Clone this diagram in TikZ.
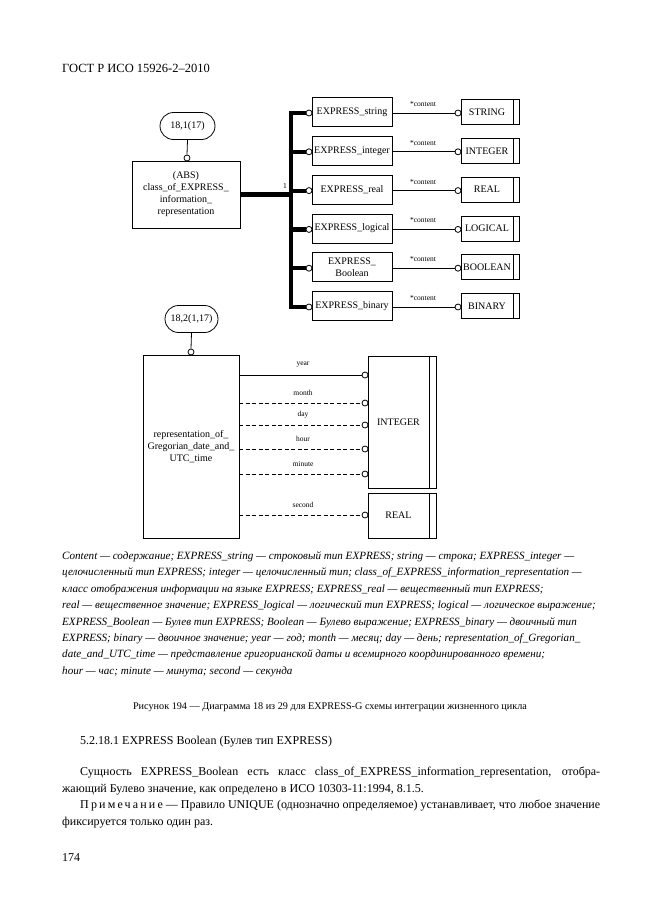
\documentclass[tikz,border=0pt]{standalone}
\usepackage{fontspec}
\setmainfont{Liberation Serif}
\usetikzlibrary{shapes.misc}
\newcommand\fsz[2]{\fontsize{#1}{#2}\selectfont}
\begin{document}
\begin{tikzpicture}[x=1pt,y=-1pt,
  tline/.style={line width=0.8pt},
  heavy/.style={line width=4.2pt, line join=miter},
  oval/.style={draw, tline, rounded rectangle, minimum height=27pt, inner sep=2pt, font=\fsz{10}{12}},
  ebox/.style={draw, tline, inner sep=1pt, align=center, font=\fsz{10}{12}},
  lbox/.style={ebox, minimum width=80pt, minimum height=29pt},
  rbox/.style={ebox, minimum width=58pt, minimum height=25pt},
  circ/.style={circle, draw, tline, fill=white, minimum size=6pt, inner sep=0pt},
  lbl/.style={font=\fsz{7.5}{9}, inner sep=0pt},
  dsh/.style={tline, dash pattern=on 4pt off 2.5pt},
  txt/.style={anchor=base west, inner sep=0pt},
  legend/.style={txt, font=\fsz{11.1}{13}\itshape},
  body/.style={txt, font=\fsz{12}{14}}]
\useasboundingbox (0,0) rectangle (661,913);
\fill[white] (0,0) rectangle (661,913);

% header
\node[txt, font=\fsz{12.5}{14}] (hdr) at (62,72) {ГОСТ Р ИСО 15926-2–2010};

% ---------- top diagram ----------
\node[oval, minimum width=59pt] (o1) at (187.5,126) {18,1(17)};
\node[ebox, minimum width=108pt, minimum height=67pt] (abs) at (186,194.5)
  {(ABS)\\class\_of\_EXPRESS\_\\information\_\\representation};
\node[circ] (oc1) at (187,158) {};
\draw[tline] (o1.south) -- (oc1.north);

\foreach \i/\y/\lt/\rt in {1/113/EXPRESS\_string/STRING,
                           2/151.8/EXPRESS\_integer/INTEGER,
                           3/190.6/EXPRESS\_real/REAL,
                           4/229.4/EXPRESS\_logical/LOGICAL,
                           5/268.2/{EXPRESS\_\\Boolean}/BOOLEAN,
                           6/307/EXPRESS\_binary/BINARY}{
  \node[lbox] (l\i) at (352,\y-1) {\lt};
  \node[rbox] (r\i) at (490,\y-1) {\rt\hspace*{6pt}};
  \draw[tline] ([xshift=-6pt]r\i.north east) -- ([xshift=-6pt]r\i.south east);
  \node[circ] (cl\i) at (309,\y) {};
  \node[circ] (cr\i) at (458,\y) {};
  \draw[tline] (l\i.east |- cr\i) -- (cr\i.west);
  \node[lbl] (t\i) at (423,\y-9) {*content};
}
\coordinate (b1) at (291,113);
\coordinate (b6) at (291,307);
\draw[heavy] (cl1.west) -- (b1) -- (b6) -- (cl6.west);
\foreach \i in {2,3,4,5}{
  \draw[heavy] (cl\i.west -| b1) -- (cl\i.west);
}
\draw[heavy] (abs.east) -- (abs.east -| b1);
\node[lbl] (one) at (285,186) {1};

% ---------- bottom diagram ----------
\node[oval, minimum width=57pt] (o2) at (191.5,319) {18,2(1,17)};
\node[ebox, minimum width=96pt, minimum height=183pt] (rep) at (191,446.5)
  {representation\_of\_\\Gregorian\_date\_and\_\\UTC\_time};
\node[circ] (oc2) at (191,352) {};
\draw[tline] (o2.south) -- (oc2.north);

\node[ebox, minimum width=68pt, minimum height=132pt] (int) at (402,422) {INTEGER\hspace*{7pt}};
\draw[tline] ([xshift=-7pt]int.north east) -- ([xshift=-7pt]int.south east);
\node[ebox, minimum width=68pt, minimum height=45pt] (real) at (402,515.5) {REAL\hspace*{7pt}};
\draw[tline] ([xshift=-7pt]real.north east) -- ([xshift=-7pt]real.south east);

\foreach \i/\y/\w/\s in {1/375/year/tline, 2/403/month/dsh, 3/425/day/dsh,
                         4/449/hour/dsh, 5/474/minute/dsh, 6/515/second/dsh}{
  \node[circ] (cb\i) at (365,\y) {};
  \draw[\s] (rep.east |- cb\i) -- (cb\i.west);
  \node[lbl] (w\i) at (303,\y-10) {\w};
}

% ---------- legend ----------
\node[legend] (c1) at (62,559.5) {Content — содержание; EXPRESS\_string — строковый тип EXPRESS; string — строка; EXPRESS\_integer —};
\node[legend] (c2) at (62,575.9) {целочисленный тип EXPRESS; integer — целочисленный тип; class\_of\_EXPRESS\_information\_representation —};
\node[legend] (c3) at (62,592.3) {класс отображения информации на языке EXPRESS; EXPRESS\_real — вещественный тип EXPRESS;};
\node[legend] (c4) at (62,608.7) {real — вещественное значение; EXPRESS\_logical — логический тип EXPRESS; logical — логическое выражение;};
\node[legend] (c5) at (62,625.1) {EXPRESS\_Boolean — Булев тип EXPRESS; Boolean — Булево выражение; EXPRESS\_binary — двоичный тип};
\node[legend] (c6) at (62,641.5) {EXPRESS; binary — двоичное значение; year — год; month — месяц; day — день; representation\_of\_Gregorian\_};
\node[legend] (c7) at (62,657.9) {date\_and\_UTC\_time — представление григорианской даты и всемирного координированного времени;};
\node[legend] (c8) at (62,674.3) {hour — час; minute — минута; second — секунда};

\node[anchor=base, inner sep=0pt, font=\fsz{10.2}{12}] (fig) at (330,709)
  {Рисунок 194 — Диаграмма 18 из 29 для EXPRESS-G схемы интеграции жизненного цикла};

\node[body] (sec) at (80,744) {5.2.18.1 EXPRESS Boolean (Булев тип EXPRESS)};
\node[body] (p1) at (80,775.5) {\makebox[520pt][s]{Сущность EXPRESS\_Boolean есть класс class\_of\_EXPRESS\_information\_representation, отобра-}};
\node[body] (p2) at (62,792) {жающий Булево значение, как определено в ИСО 10303-11:1994, 8.1.5.};
\node[body] (p3) at (80,808.5) {\makebox[520pt][s]{{\addfontfeature{LetterSpace=18}Примечание} — Правило UNIQUE (однозначно определяемое) устанавливает, что любое значение}};
\node[body] (p4) at (62,825) {фиксируется только один раз.};
\node[body] (pg) at (62,861) {174};
\end{tikzpicture}
\end{document}
